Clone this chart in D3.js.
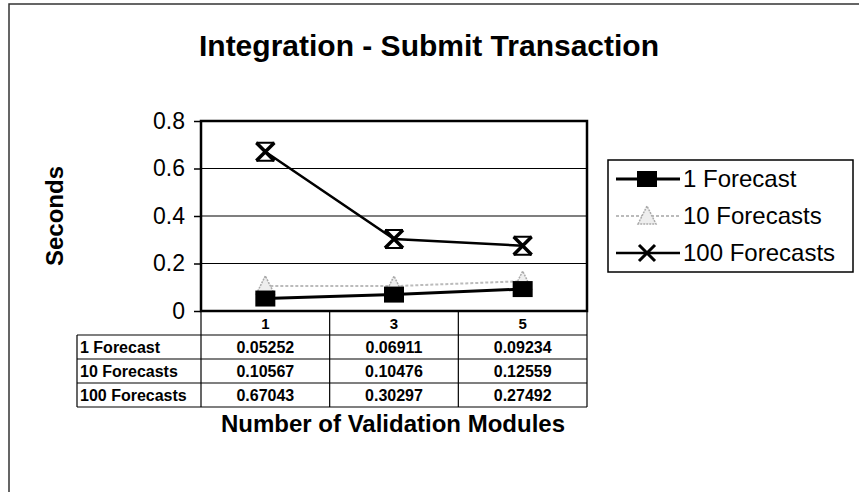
<!DOCTYPE html>
<html><head><meta charset="utf-8">
<script src="https://cdn.jsdelivr.net/npm/d3@7"></script>
<style>body{margin:0;background:#fff;} svg{display:block;font-family:"Liberation Sans",Arial,sans-serif;}</style>
</head><body>
<svg id="c" width="859" height="492"></svg>
<script>
const categories = ["1", "3", "5"];
const seriesNames = ["1 Forecast", "10 Forecasts", "100 Forecasts"];
const s1 = [0.05252, 0.06911, 0.09234];
const s10 = [0.10567, 0.10476, 0.12559];
const s100 = [0.67043, 0.30297, 0.27492];
const yTicks = [0, 0.2, 0.4, 0.6, 0.8];
const series = [s1, s10, s100];

const svg = d3.select("#c");
const L = 201, R = 587, T = 121, B = 311;

// outer border
svg.append("rect").attr("x",9).attr("y",4).attr("width",900).attr("height",600)
  .attr("fill","none").attr("stroke","#333").attr("stroke-width",1.5);

svg.append("text").attr("x",429).attr("y",56).attr("text-anchor","middle")
  .attr("font-size",30).attr("font-weight","bold").text("Integration - Submit Transaction");

const x = d3.scaleBand().domain(categories).range([L,R]);
const y = d3.scaleLinear().domain([0,0.8]).range([B,T]);

// gridlines
svg.append("g").selectAll("line").data(yTicks.slice(1,-1)).join("line")
  .attr("x1",L).attr("x2",R).attr("y1",d=>y(d)).attr("y2",d=>y(d))
  .attr("stroke","#000").attr("stroke-width",1.2);

// plot frame
svg.append("rect").attr("x",L).attr("y",T).attr("width",R-L).attr("height",B-T)
  .attr("fill","none").attr("stroke","#000").attr("stroke-width",2.5);

// y axis
const ya = d3.axisLeft(y).tickValues(yTicks).tickFormat(d=>d===0?"0":d3.format(".1f")(d)).tickSize(7).tickPadding(9);
const yg = svg.append("g").attr("transform",`translate(${L},0)`).call(ya);
yg.select(".domain").remove();
yg.selectAll("line").attr("stroke","#000").attr("stroke-width",1.5);
yg.selectAll("text").attr("font-size",23).attr("fill","#000").attr("font-family","Liberation Sans, Arial, sans-serif");

svg.append("text").attr("transform","translate(63,216) rotate(-90)").attr("text-anchor","middle")
  .attr("font-size",24).attr("font-weight","bold").text("Seconds");

// table
const rowH = 24, hdrB = B + 24, tabL = 77;
const tg = svg.append("g");
const cx = d => x(d) + x.bandwidth()/2;
tg.selectAll("text.h").data(categories).join("text").attr("class","h")
  .attr("x",d=>cx(d)).attr("y",B+18).attr("text-anchor","middle").attr("font-size",15).attr("font-weight","bold").text(d=>d);
const bottom = hdrB + rowH*3;
[L, ...categories.map(d=>x(d)+x.bandwidth())].forEach(v=>{
  tg.append("line").attr("x1",v).attr("x2",v).attr("y1",B).attr("y2",bottom).attr("stroke","#000").attr("stroke-width",1.2);
});
tg.append("line").attr("x1",tabL).attr("x2",tabL).attr("y1",hdrB).attr("y2",bottom).attr("stroke","#000").attr("stroke-width",1.2);
for(let i=0;i<=3;i++){
  tg.append("line").attr("x1",tabL).attr("x2",R).attr("y1",hdrB+i*rowH).attr("y2",hdrB+i*rowH).attr("stroke","#000").attr("stroke-width",1.2);
}
seriesNames.forEach((n,i)=>{
  tg.append("text").attr("x",tabL+3).attr("y",hdrB+i*rowH+18).attr("font-size",16).attr("font-weight","bold").text(n);
  series[i].forEach((v,j)=>{
    tg.append("text").attr("x",cx(categories[j])).attr("y",hdrB+i*rowH+18).attr("text-anchor","middle")
      .attr("font-size",16).attr("font-weight","bold").text(d3.format(".5f")(v));
  });
});

svg.append("text").attr("x",393).attr("y",432).attr("text-anchor","middle")
  .attr("font-size",24).attr("font-weight","bold").text("Number of Validation Modules");

// series lines
const line = d3.line().x((d,i)=>cx(categories[i])).y(d=>y(d));
const styles = [
  {stroke:"#000", w:3, dash:null},
  {stroke:"#bbb", w:2, dash:"3,2"},
  {stroke:"#000", w:2.5, dash:null}
];
function marker(g, k, px, py){
  if(k===0){
    g.append("rect").attr("x",px-10).attr("y",py-8).attr("width",20).attr("height",16).attr("fill","#000");
  } else if(k===1){
    g.append("path").attr("d",`M${px-9},${py+8}L${px},${py-10}L${px+9},${py+8}Z`)
      .attr("fill","#eee").attr("stroke","#aaa").attr("stroke-width",1.5).attr("stroke-dasharray","2,1");
  } else {
    g.append("path").attr("d",`M${px-9},${py-9}L${px+9},${py+9}M${px+9},${py-9}L${px-9},${py+9}`)
      .attr("stroke","#000").attr("stroke-width",3.5);
    g.append("path").attr("d",`M${px-9},${py-9}L${px+9},${py-9}M${px-9},${py+9}L${px+9},${py+9}`)
      .attr("stroke","#000").attr("stroke-width",2);
  }
}
const order = [1,0,2];
order.forEach(k=>{
  const st = styles[k];
  svg.append("path").datum(series[k]).attr("d",line).attr("fill","none")
    .attr("stroke",st.stroke).attr("stroke-width",st.w).attr("stroke-dasharray",st.dash);
  const mg = svg.append("g");
  series[k].forEach((v,i)=>marker(mg,k,cx(categories[i]),y(v)));
});

// legend
const lg = svg.append("g");
lg.append("rect").attr("x",608).attr("y",160).attr("width",245).attr("height",112)
  .attr("fill","#fff").attr("stroke","#000").attr("stroke-width",1.5);
const ly = [179, 216, 253];
seriesNames.forEach((n,k)=>{
  const st = styles[k];
  lg.append("line").attr("x1",616).attr("x2",680).attr("y1",ly[k]).attr("y2",ly[k])
    .attr("stroke",st.stroke).attr("stroke-width",st.w).attr("stroke-dasharray",st.dash);
  if(k===2){
    lg.append("path").attr("d",`M${639},${ly[k]-8}L${655},${ly[k]+8}M${655},${ly[k]-8}L${639},${ly[k]+8}`).attr("stroke","#000").attr("stroke-width",3);
  } else marker(lg,k,647,ly[k]);
  lg.append("text").attr("x",683).attr("y",ly[k]+8).attr("font-size",24).text(n);
});
</script>
</body></html>
